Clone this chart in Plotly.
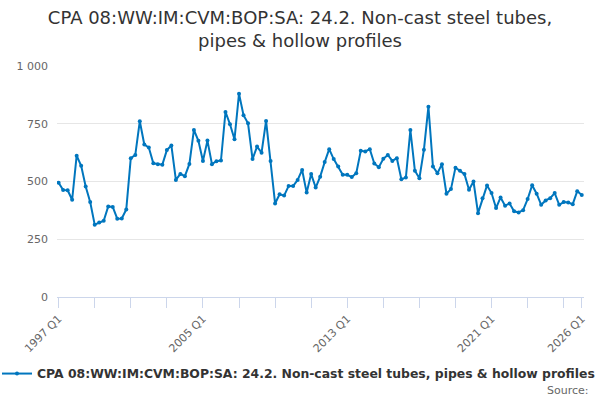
import plotly.graph_objects as go

# quarterly index, 1997 Q1 .. 2026 Q1
quarters = [str(y) + " Q" + str(q) for y in range(1997, 2027) for q in range(1, 5)][:117]

values = [495, 463, 462, 421, 612, 568, 478, 411, 313, 323,
          330, 392, 390, 339, 340, 379, 601, 615, 761, 660,
          647, 579, 575, 573, 636, 656, 507, 533, 523, 576,
          723, 676, 589, 677, 575, 588, 591, 801, 748, 683,
          880, 787, 752, 597, 651, 625, 762, 589, 405, 445,
          439, 480, 480, 507, 550, 452, 532, 474, 521, 584,
          640, 597, 565, 529, 529, 519, 536, 633, 630, 640,
          578, 562, 598, 615, 589, 601, 510, 517, 723, 547,
          514, 637, 824, 565, 536, 575, 447, 467, 560, 547,
          532, 464, 500, 363, 428, 483, 450, 385, 431, 395,
          405, 371, 366, 376, 424, 484, 447, 399, 418, 428,
          450, 399, 411, 409, 402, 458, 442]

label_quarters = ["1997 Q1", "2005 Q1", "2013 Q1", "2021 Q1", "2026 Q1"]
y_ticks = [0, 250, 500, 750, 1000]
y_labels = ["0", "250", "500", "750", "1 000"]

series_name = "CPA 08:WW:IM:CVM:BOP:SA: 24.2. Non-cast steel tubes, pipes & hollow profiles"

# tick marks every 2 years plus the last quarter, labels only on some
tick_q = quarters[::8] + [quarters[-1]]
tick_t = [q if q in label_quarters else "" for q in tick_q]

fig = go.Figure()
fig.add_trace(go.Scatter(x=quarters, y=values,
                         mode="lines+markers",
                         name=series_name,
                         line=dict(color="#0076be", width=2),
                         marker=dict(size=4, color="#0076be")))

fig.update_layout(
    width=600, height=400,
    paper_bgcolor="white", plot_bgcolor="white",
    font=dict(family="DejaVu Sans", color="#333333"),
    margin=dict(l=57, r=16, t=66, b=103),
    title=dict(text="CPA 08:WW:IM:CVM:BOP:SA: 24.2. Non-cast steel tubes,<br>pipes & hollow profiles",
               x=0.5, xanchor="center", xref="container",
               y=0.94, yanchor="top",
               font=dict(size=18, color="#333333")),
    showlegend=True,
    legend=dict(orientation="h", xref="paper", x=(-10 - 57) / 527.0, xanchor="left",
                yref="container", y=0.065, yanchor="middle",
                itemwidth=30,
                font=dict(size=12.4, color="#333333", weight="bold")),
)
fig.update_xaxes(type="category", range=[-0.36, 116.5], automargin=False,
                 tickvals=tick_q, ticktext=tick_t, tickangle=-45,
                 ticks="outside", ticklen=10, tickcolor="#ccd6eb",
                 showline=True, linecolor="#ccd6eb", linewidth=1,
                 showgrid=False, zeroline=False,
                 tickfont=dict(size=11, color="#666666"))
fig.update_yaxes(range=[0, 1000], tickvals=y_ticks, ticktext=y_labels,
                 automargin=False,
                 showgrid=True, gridcolor="#e6e6e6", zeroline=False,
                 showline=False, ticks="", ticklabelstandoff=8,
                 tickfont=dict(size=11, color="#666666"))
fig.add_annotation(text="Source:", xref="paper", yref="paper",
                   x=(591 - 57) / 527, y=-(390 - 297) / 231.0,
                   xanchor="right", yanchor="middle", showarrow=False,
                   font=dict(size=11, color="#666666"))
fig.write_html("out.html", config={"displayModeBar": False},
               post_script="document.body.style.margin = '0';")
